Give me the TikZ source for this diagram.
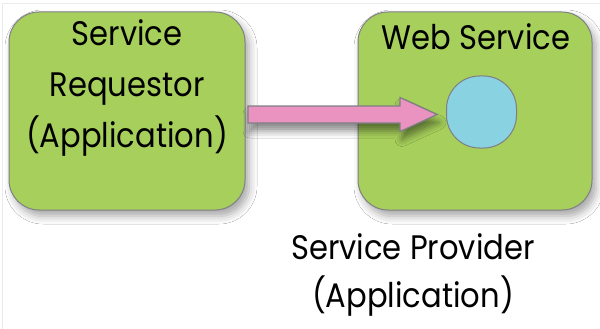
\documentclass[tikz,border=0pt]{standalone}
\usepackage{fontspec}
\setmainfont{Poppins}[FakeStretch=0.9]
\usetikzlibrary{shadows.blur,calc}

\definecolor{appgreen}{HTML}{A6CF5B}
\definecolor{opblue}{HTML}{88D2E2}
\definecolor{msgpink}{HTML}{EA93C0}
\definecolor{edgegray}{HTML}{7F7F86}

\tikzset{
  appbox/.style={draw=edgegray, line width=1pt, fill=appgreen, rounded corners=30pt,
    inner sep=0pt, blur shadow={shadow xshift=4pt, shadow yshift=-6pt,
    shadow blur radius=8pt, shadow opacity=35}},
  opbox/.style={draw=edgegray, line width=1pt, fill=opblue, rounded corners=33pt,
    inner sep=0pt, minimum width=70pt, minimum height=72pt},
  msgarrow/.style={draw=edgegray, line width=1.2pt, fill=msgpink, line join=miter,
    blur shadow={shadow xshift=2pt, shadow yshift=-8pt,
    shadow blur radius=7pt, shadow opacity=45}},
  label/.style={font=\fontsize{34pt}{51pt}\selectfont, align=center, inner sep=0pt}
}

\begin{document}
\begin{tikzpicture}[x=1pt, y=1pt]
  \useasboundingbox (0,0) rectangle (600,-329);
  \fill[white] (0,0) rectangle (600,-329);
  % slide edge
  \draw[black!8, line width=1pt] (2,-329) -- (2,-4) -- (600,-4);

  % the two applications
  \node[appbox, minimum width=236pt, minimum height=198pt] (requestor) at (127,-111) {};
  \node[appbox, minimum width=234pt, minimum height=198pt] (provider) at (475,-111) {};
  \node[opbox] (operation) at (481.5,-112) {};

  % request message
  \coordinate (tail) at (248,-114.5);
  \coordinate (tip) at (437,-114.5);
  \path[msgarrow] ($(tail)+(0,8.5)$) -- ($(tip)+(-37,8.5)$) -- ($(tip)+(-37,17)$)
    -- (tip) -- ($(tip)+(-37,-17)$) -- ($(tip)+(-37,-8.5)$) -- ($(tail)+(0,-8.5)$) -- cycle;

  % labels
  \node[label, anchor=north] (reqlabel) at (127,-19) {Service\\Requestor\\(Application)};
  \node[label, anchor=north] (wslabel) at (476,-23) {Web Service};
  \node[label, anchor=north, font=\fontsize{34pt}{48pt}\selectfont] (provlabel) at (413,-233)
    {Service Provider\\(Application)};
\end{tikzpicture}
\end{document}
